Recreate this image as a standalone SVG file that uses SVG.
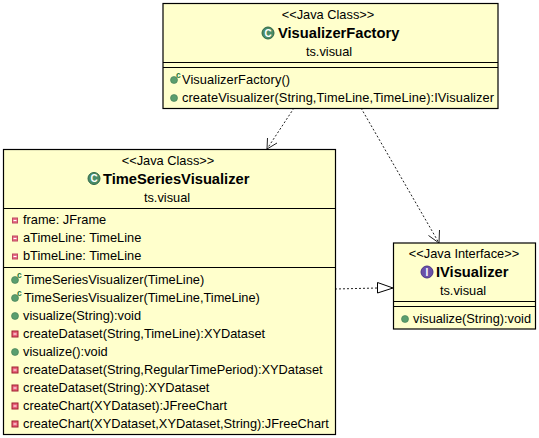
<svg xmlns="http://www.w3.org/2000/svg" width="539" height="438" viewBox="0 0 539 438">
<style>
text{font-family:"Liberation Sans",Arial,sans-serif;font-size:12.8px;fill:#000}
.n{font-size:14.7px;font-weight:bold}
.m{text-anchor:middle}
.box{fill:#ffffcc;stroke:#000;stroke-width:1.2}
.sep{stroke:#000;stroke-width:1;fill:none}
.dash{stroke:#222;stroke-width:1;stroke-dasharray:2 2;fill:none}
.head{stroke:#222;stroke-width:1;fill:none}
.pub{fill:#5a9e6e;stroke:#3f7a52;stroke-width:.6}
.pri{fill:#e8607a;stroke:#a02030;stroke-width:1}
.fld{fill:#e8708a;stroke:#c04a60;stroke-width:1}
.c{fill:#1f7a3f;font-size:8.500px;font-weight:bold}
.ic{font-size:10px;font-weight:bold;fill:#fff;text-anchor:middle}
</style>
<defs>
<g id="pub"><circle r="3.500" class="pub"/></g>
<g id="pri"><rect x="-3" y="-3" width="6" height="6" class="pri"/><rect x="-1.500" y="-.5" width="3" height="1" fill="#fff"/></g>
<g id="fld"><rect x="-2.500" y="-2.500" width="5" height="5" class="fld"/><rect x="-1.500" y="-.5" width="3" height="1" fill="#fff"/></g>
<g id="ctor"><circle r="3.500" class="pub"/><text x="2" y="-2" class="c">c</text></g>
</defs>
<g id="connectors">
<path class="dash" d="M294 108L267 149"/>
<path class="head" d="M267.500 138L267 149L277 143"/>
<path class="dash" d="M361 108L439 243"/>
<path class="head" d="M428.500 235.500L439 243L439.500 230"/>
<path class="dash" d="M335 289L378 288"/>
<path d="M377.500 282.500L393 288L377.500 293Z" fill="#fff" stroke="#000"/>
</g>
<g id="VisualizerFactory">
<rect class="box" x="163" y="3.500" width="335" height="105"/>
<path class="sep" d="M163 62.500H498M163 67.500H498"/>
<text x="328" y="19" class="m">&lt;&lt;Java Class&gt;&gt;</text>
<circle cx="268" cy="33" r="6" fill="#4a8c68" stroke="#2e6648"/><text x="268" y="36.500" class="ic">C</text>
<text x="278" y="38" class="n">VisualizerFactory</text>
<text x="329" y="56" class="m">ts.visual</text>
<use href="#ctor" x="174" y="80"/>
<text x="182" y="84" textLength="108">VisualizerFactory()</text>
<use href="#pub" x="174" y="98"/>
<text x="182" y="102" textLength="312">createVisualizer(String,TimeLine,TimeLine):IVisualizer</text>
</g>
<g id="TimeSeriesVisualizer">
<rect class="box" x="3.500" y="149.500" width="332" height="285"/>
<path class="sep" d="M3.500 208.500H335.500M3.500 267.500H335.500"/>
<text x="168" y="165" class="m">&lt;&lt;Java Class&gt;&gt;</text>
<circle cx="94" cy="178.500" r="6" fill="#4a8c68" stroke="#2e6648"/><text x="94" y="182" class="ic">C</text>
<text x="103" y="184" class="n">TimeSeriesVisualizer</text>
<text x="167" y="202" class="m">ts.visual</text>
<use href="#fld" x="15" y="220.500"/><text x="23" y="224">frame: JFrame</text>
<use href="#fld" x="15" y="238.500"/><text x="23" y="242">aTimeLine: TimeLine</text>
<use href="#fld" x="15" y="256.500"/><text x="23" y="260">bTimeLine: TimeLine</text>
<use href="#ctor" x="15" y="280"/><text x="24" y="284">TimeSeriesVisualizer(TimeLine)</text>
<use href="#ctor" x="15" y="298"/><text x="24" y="302">TimeSeriesVisualizer(TimeLine,TimeLine)</text>
<use href="#pub" x="15" y="316"/><text x="23" y="320">visualize(String):void</text>
<use href="#pri" x="15" y="334"/><text x="23" y="338">createDataset(String,TimeLine):XYDataset</text>
<use href="#pub" x="15" y="352"/><text x="23" y="356">visualize():void</text>
<use href="#pri" x="15" y="370"/><text x="23" y="374">createDataset(String,RegularTimePeriod):XYDataset</text>
<use href="#pri" x="15" y="388"/><text x="23" y="392">createDataset(String):XYDataset</text>
<use href="#pri" x="15" y="406"/><text x="23" y="410">createChart(XYDataset):JFreeChart</text>
<use href="#pri" x="15" y="424"/><text x="23" y="428">createChart(XYDataset,XYDataset,String):JFreeChart</text>
</g>
<g id="IVisualizer">
<rect class="box" x="393.500" y="243" width="142" height="86"/>
<path class="sep" d="M393.500 301.500H535.500M393.500 306.500H535.500"/>
<text x="464" y="258" class="m">&lt;&lt;Java Interface&gt;&gt;</text>
<circle cx="427" cy="272" r="6" fill="#6a50a8" stroke="#4a3488"/><text x="427" y="275.500" class="ic">I</text>
<text x="436" y="277" class="n">IVisualizer</text>
<text x="463" y="295" class="m">ts.visual</text>
<use href="#pub" x="405" y="319"/>
<text x="413" y="323">visualize(String):void</text>
</g>
</svg>
